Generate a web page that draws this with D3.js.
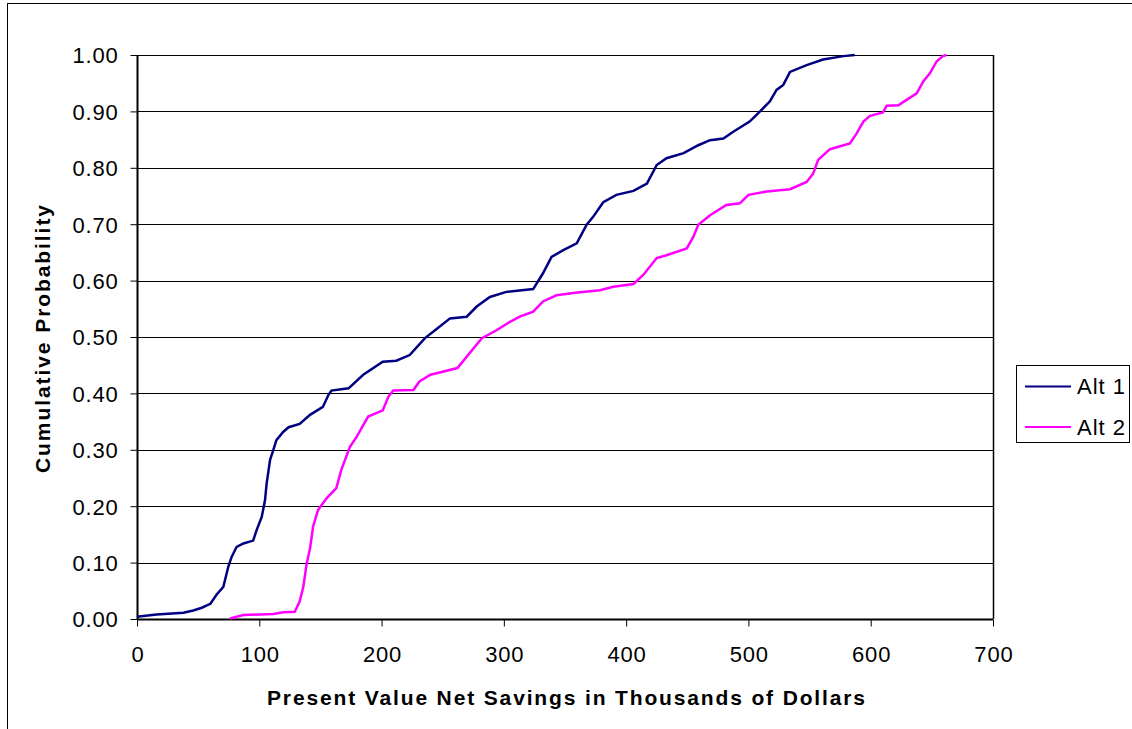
<!DOCTYPE html>
<html>
<head>
<meta charset="utf-8">
<script src="https://cdn.jsdelivr.net/npm/d3@7/dist/d3.min.js"></script>
<style>
  html, body { margin: 0; padding: 0; background: #fff; }
  svg { display: block; font-family: "Liberation Sans", Arial, sans-serif; }
</style>
</head>
<body>
<svg id="chart" width="1132" height="729"></svg>
<script>
// ---- data ----
const xTicks = [0, 100, 200, 300, 400, 500, 600, 700];
const yTicks = [0, 0.1, 0.2, 0.3, 0.4, 0.5, 0.6, 0.7, 0.8, 0.9, 1.0];
const seriesNames = ["Alt 1", "Alt 2"];

const alt1X = [0, 16, 38, 46, 53, 60, 65, 70.6, 74.7, 77.4, 81.5, 87, 95, 97.9, 102, 104.7, 106, 108.8, 111.5, 114, 119.7, 124, 133, 141.5, 152, 156.5, 159, 173, 185, 201, 212, 223, 235.5, 245, 256, 269.6, 277.8, 288.6, 302, 324, 332, 339, 348.6, 359.6, 367.7, 373, 381.3, 392, 406, 417, 425, 433, 447, 459, 468.6, 479.5, 487.6, 501, 509.5, 517.6, 523, 528.5, 534, 547.6, 561, 577.6, 587];
const alt1Y = [0.004, 0.008, 0.011, 0.015, 0.02, 0.027, 0.043, 0.057, 0.093, 0.11, 0.128, 0.134, 0.139, 0.158, 0.181, 0.211, 0.24, 0.282, 0.30, 0.317, 0.332, 0.34, 0.346, 0.362, 0.376, 0.397, 0.405, 0.409, 0.433, 0.456, 0.458, 0.468, 0.498, 0.514, 0.533, 0.536, 0.554, 0.571, 0.58, 0.585, 0.613, 0.642, 0.654, 0.666, 0.699, 0.713, 0.739, 0.752, 0.759, 0.772, 0.805, 0.817, 0.826, 0.84, 0.849, 0.852, 0.864, 0.882, 0.90, 0.918, 0.938, 0.947, 0.97, 0.982, 0.992, 0.998, 1.0];

const alt2X = [76, 87, 111.5, 119.7, 129, 133, 136, 138.8, 141.5, 144, 148, 155, 163, 167, 174, 179.6, 189, 201, 205.5, 209.6, 226, 231, 240, 262, 282, 294, 305, 313, 324, 332, 343, 360, 378.6, 389.5, 406, 414, 425, 433, 449.6, 455, 459, 468.6, 482, 493, 500, 515, 534, 547.6, 553, 557, 566.7, 583, 588.5, 594, 599.4, 610, 613, 622.6, 629, 637.6, 643, 648.5, 654, 659, 662];
const alt2Y = [0.001, 0.007, 0.009, 0.012, 0.013, 0.031, 0.057, 0.099, 0.125, 0.164, 0.193, 0.214, 0.232, 0.264, 0.305, 0.323, 0.359, 0.37, 0.394, 0.405, 0.406, 0.421, 0.433, 0.445, 0.498, 0.512, 0.527, 0.536, 0.545, 0.563, 0.574, 0.579, 0.583, 0.589, 0.594, 0.61, 0.64, 0.645, 0.657, 0.678, 0.699, 0.716, 0.734, 0.737, 0.752, 0.758, 0.762, 0.775, 0.79, 0.814, 0.833, 0.843, 0.861, 0.882, 0.892, 0.898, 0.91, 0.911, 0.92, 0.932, 0.953, 0.968, 0.989, 0.998, 1.0];

const colors = ["#000080", "#FF00FF"];

// ---- layout ----
const svg = d3.select("#chart");
const plot = { left: 137, top: 55, right: 993, bottom: 619 };

// outer chart border (only top and left are visible in the frame)
svg.append("rect")
  .attr("x", 7.5).attr("y", 3.5).attr("width", 1300).attr("height", 900)
  .attr("fill", "#fff").attr("stroke", "#000").attr("stroke-width", 1);

const x = d3.scaleLinear().domain([0, 700]).range([plot.left, plot.right]);
const y = d3.scaleLinear().domain([0, 1]).range([plot.bottom, plot.top]);

// gridlines
svg.append("g")
  .selectAll("line").data(yTicks.slice(1)).join("line")
  .attr("x1", plot.left).attr("x2", plot.right)
  .attr("y1", d => Math.round(y(d)) + 0.5).attr("y2", d => Math.round(y(d)) + 0.5)
  .attr("stroke", "#000").attr("stroke-width", 1);

// right plot border
svg.append("line")
  .attr("x1", plot.right + 0.5).attr("x2", plot.right + 0.5)
  .attr("y1", plot.top).attr("y2", plot.bottom)
  .attr("stroke", "#000").attr("stroke-width", 1.5);

// axes
const xAxis = d3.axisBottom(x).tickValues(xTicks).tickSize(7).tickPadding(20).tickFormat(d3.format("d"));
const yAxis = d3.axisLeft(y).tickValues(yTicks).tickSize(7).tickPadding(12).tickFormat(d3.format(".2f"));

const gx = svg.append("g").attr("transform", `translate(0,${plot.bottom + 0.5})`).call(xAxis);
const gy = svg.append("g").attr("transform", `translate(${plot.left + 0.5},0)`).call(yAxis);

[gx, gy].forEach(g => {
  g.select(".domain").attr("stroke", "#000").attr("stroke-width", 2);
  g.selectAll(".tick line").attr("stroke", "#000").attr("stroke-width", 1);
  g.selectAll(".tick text")
    .attr("fill", "#000")
    .style("font-family", '"Liberation Sans", Arial, sans-serif')
    .style("font-size", "22px")
    .style("letter-spacing", "0.8px");
});
gx.select(".domain").attr("d", `M${plot.left},0H${plot.right}`);
gy.select(".domain").attr("d", `M0,${plot.top}V${plot.bottom}`);
gy.selectAll(".tick text").attr("dy", "0.36em");
gx.selectAll(".tick text").attr("dx", "0.4px");

// lines
const seriesData = [
  alt1X.map((v, i) => [v, alt1Y[i]]),
  alt2X.map((v, i) => [v, alt2Y[i]])
];
const line = d3.line().x(d => x(d[0])).y(d => y(d[1])).curve(d3.curveLinear);

svg.append("g").selectAll("path").data(seriesData).join("path")
  .attr("d", line)
  .attr("fill", "none")
  .attr("stroke", (d, i) => colors[i])
  .attr("stroke-width", 2.5)
  .attr("stroke-linejoin", "miter");

// axis titles
svg.append("text")
  .attr("x", 267).attr("y", 705)
  .attr("textLength", 598).attr("lengthAdjust", "spacing")
  .style("font-size", "21px").style("font-weight", "bold")
  .text("Present Value Net Savings in Thousands of Dollars");

svg.append("text")
  .attr("transform", `translate(50,473) rotate(-90)`)
  .attr("textLength", 268).attr("lengthAdjust", "spacing")
  .style("font-size", "21px").style("font-weight", "bold")
  .text("Cumulative Probability");

// legend
const lg = svg.append("g");
lg.append("rect")
  .attr("x", 1016.5).attr("y", 365.5).attr("width", 113).attr("height", 77)
  .attr("fill", "#fff").attr("stroke", "#000").attr("stroke-width", 1);
const legendRows = lg.selectAll("g.row").data(seriesNames).join("g")
  .attr("class", "row")
  .attr("transform", (d, i) => `translate(0,${386 + i * 40.5})`);
legendRows.append("line")
  .attr("x1", 1025).attr("x2", 1071).attr("y1", 0.5).attr("y2", 0.5)
  .attr("stroke", (d, i) => colors[i]).attr("stroke-width", 2);
legendRows.append("text")
  .attr("x", 1077).attr("y", 8)
  .style("font-size", "22px").style("letter-spacing", "1px")
  .text(d => d);
</script>
</body>
</html>
